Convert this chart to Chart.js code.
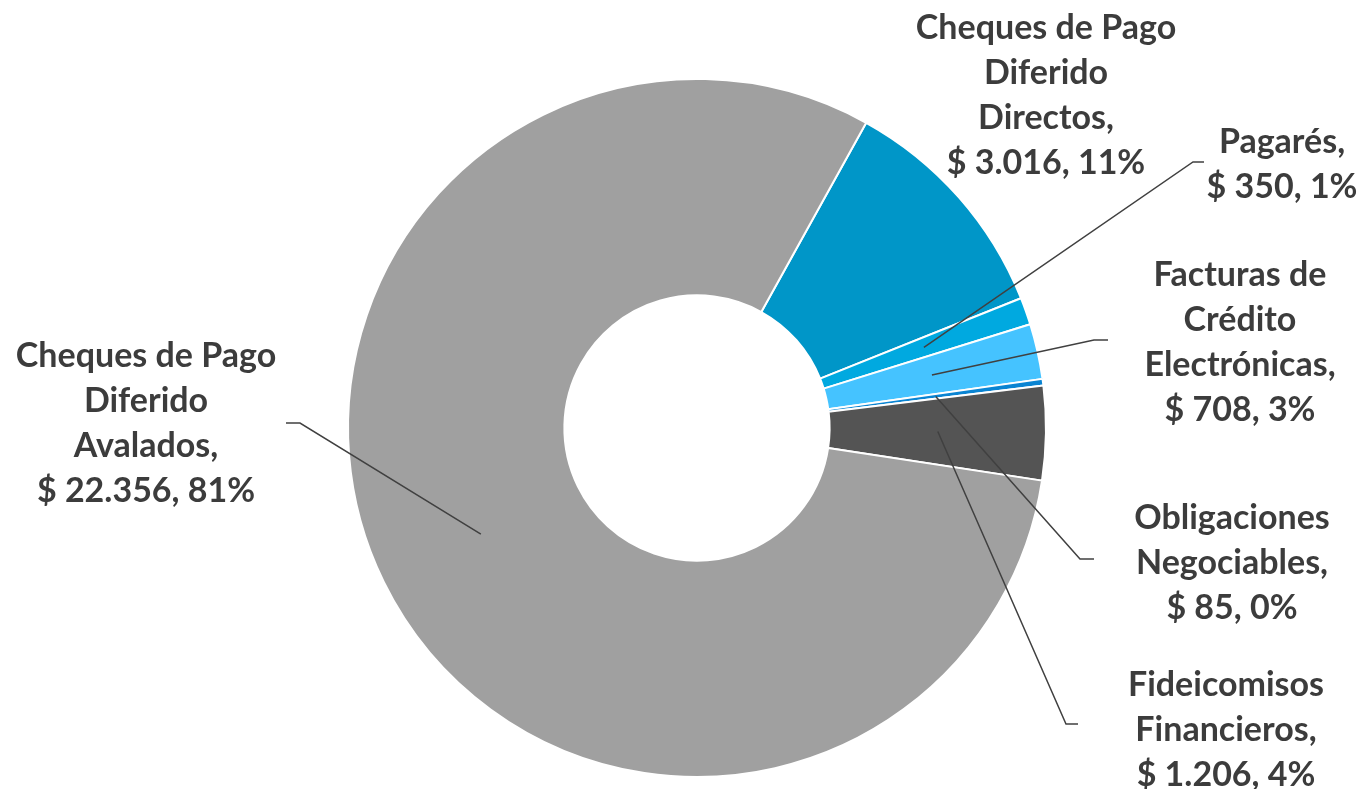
<!DOCTYPE html>
<html>
<head>
<meta charset="utf-8">
<title>Composición del financiamiento</title>
<script src="https://cdn.jsdelivr.net/npm/chart.js@4.4.1/dist/chart.umd.min.js"></script>
<style>
  html, body { margin: 0; padding: 0; background: #ffffff; }
  #wrap { width: 1366px; height: 789px; position: relative; }
</style>
</head>
<body>
<div id="wrap"><canvas id="donut" width="1366" height="789"></canvas></div>
<script>
// Data (millones de $)
const categories = [
    ['Cheques de Pago', 'Diferido', 'Directos,'],
    ['Pagarés,'],
    ['Facturas de', 'Crédito', 'Electrónicas,'],
    ['Obligaciones', 'Negociables,'],
    ['Fideicomisos', 'Financieros,'],
    ['Cheques de Pago', 'Diferido', 'Avalados,']
];
const amounts = [3016, 350, 708, 85, 1206, 22356];
const sliceColors = ['#0096c8', '#00a9e0', '#45c3ff', '#0a84d2', '#545454', '#a0a0a0'];

// Where each label sits (center x, first line y) and its leader line (elbow, end)
const labelLayout = [
    { x: 1046, y: 28,  leader: null },
    { x: 1282, y: 142, leader: [[1193, 162], [1204, 162]] },
    { x: 1240, y: 275, leader: [[1094, 340], [1108, 340]] },
    { x: 1232, y: 518, leader: [[1080, 559], [1094, 559]] },
    { x: 1226, y: 685, leader: [[1066, 724], [1078, 724]] },
    { x: 146,  y: 356, leader: [[300, 423], [286, 423]] }
];

const total = amounts.reduce((a, b) => a + b, 0);

// 22356 -> "22.356"
function formatMoney(v) {
    return String(v).replace(/\B(?=(\d{3})+(?!\d))/g, '.');
}

const labelsPlugin = {
    id: 'outsideLabels',
    afterDatasetsDraw(chart) {
        const ctx = chart.ctx;
        const meta = chart.getDatasetMeta(0);
        ctx.save();

        // leader lines
        ctx.strokeStyle = '#404040';
        ctx.lineWidth = 1.5;
        meta.data.forEach((arc, i) => {
            const lay = labelLayout[i];
            if (!lay.leader) return;
            const p = arc.getProps(['x', 'y', 'startAngle', 'endAngle', 'innerRadius', 'outerRadius'], true);
            const mid = (p.startAngle + p.endAngle) / 2;
            const r = (p.innerRadius + p.outerRadius) / 2;
            ctx.beginPath();
            ctx.moveTo(p.x + Math.cos(mid) * r, p.y + Math.sin(mid) * r);
            lay.leader.forEach(pt => ctx.lineTo(pt[0], pt[1]));
            ctx.stroke();
        });

        // texts
        ctx.font = 'bold 34px Lato';
        ctx.fillStyle = '#3c3c3c';
        ctx.textAlign = 'center';
        ctx.textBaseline = 'middle';
        const lineH = 45;
        categories.forEach((lines, i) => {
            const pct = Math.round(amounts[i] / total * 100);
            const all = lines.concat(['$ ' + formatMoney(amounts[i]) + ', ' + pct + '%']);
            const lay = labelLayout[i];
            all.forEach((t, k) => ctx.fillText(t, lay.x, lay.y + k * lineH));
        });
        ctx.restore();
    }
};

new Chart(document.getElementById('donut'), {
    type: 'doughnut',
    data: {
        labels: categories.map(l => l.join(' ')),
        datasets: [{
            data: amounts,
            backgroundColor: sliceColors,
            borderColor: '#ffffff',
            borderWidth: 2
        }]
    },
    options: {
        responsive: false,
        animation: false,
        rotation: 29,
        cutout: '38%',
        layout: { padding: { top: 78, bottom: 11, left: 300, right: 272 } },
        plugins: {
            legend: { display: false },
            tooltip: { enabled: false }
        }
    },
    plugins: [labelsPlugin]
});
</script>
</body>
</html>
